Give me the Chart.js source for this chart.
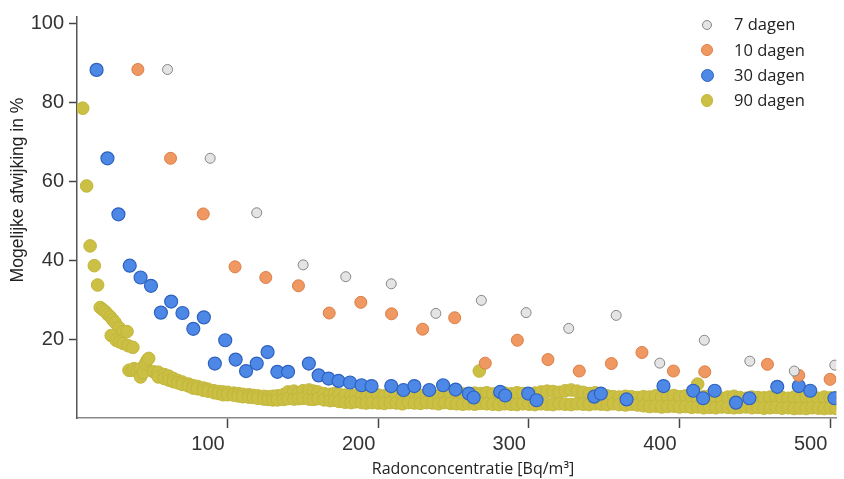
<!DOCTYPE html>
<html>
<head>
<meta charset="utf-8">
<script src="https://cdn.jsdelivr.net/npm/chart.js@4.4.1/dist/chart.umd.min.js"></script>
<style>
  html, body { margin: 0; padding: 0; background: #fff; }
  #wrap { position: relative; width: 844px; height: 479px; }
  #legend { position: absolute; left: 698px; top: 12px; font-family: "Open Sans", sans-serif; font-size: 16.5px; color: #222; }
  #legend .row { height: 25.3px; display: flex; align-items: center; }
  #legend .box { width: 18px; height: 18px; display: flex; align-items: center; justify-content: center; }
  #legend .dot { border-radius: 50%; box-sizing: border-box; }
  #legend .txt { margin-left: 18px; line-height: 1; }
</style>
</head>
<body>
<div id="wrap">
  <canvas id="myChart" width="844" height="479"></canvas>
  <div id="legend"></div>
</div>
<script>
    // series names
    const seriesLabels = ['7 dagen', '10 dagen', '30 dagen', '90 dagen'];

    // axis texts + ticks
    const xTitle = 'Radonconcentratie [Bq/m³]';
    const yTitle = 'Mogelijke afwijking in %';
    const xTicks = [100, 200, 300, 400, 500];
    const yTicks = [20, 40, 60, 80, 100];

    // 7 dagen
    const days7X = [60.1, 88.4, 119.3, 150.1, 178.4, 208.6, 238.2, 268.4, 298.1, 326.4, 357.9, 386.8, 416.4, 446.6, 476.1, 503.0];
    const days7Y = [88.3, 65.8, 52.0, 38.8, 35.8, 34.0, 26.5, 29.8, 26.7, 22.7, 26.0, 13.9, 19.7, 14.4, 11.9, 13.4];

    // 10 dagen
    const days10X = [40.4, 62.1, 83.8, 104.9, 125.3, 147.0, 167.4, 188.4, 208.8, 229.4, 250.7, 271.0, 292.3, 312.6, 333.4, 354.7, 375.0, 395.9, 416.7, 458.3, 479.1, 499.9];
    const days10Y = [88.3, 65.8, 51.7, 38.3, 35.6, 33.5, 26.6, 29.3, 26.4, 22.5, 25.4, 13.9, 19.7, 14.8, 11.9, 13.8, 16.6, 11.9, 11.7, 13.6, 10.8, 9.8];

    // 30 dagen
    const days30X = [13.0, 20.2, 27.5, 35.0, 42.2, 49.1, 55.7, 62.5, 70.0, 77.2, 84.2, 91.5, 98.4, 105.3, 112.2, 119.3, 126.5, 133.0, 140.1,
        153.9, 160.4, 167.0, 173.6, 181.2, 188.9, 195.5, 208.6, 216.7, 223.9, 233.8, 243.0, 251.3, 260.1, 263.3, 280.9, 284.2, 299.5, 305.0,
        343.3, 347.7, 364.8, 389.3, 409.0, 415.6, 423.3, 437.4, 446.3, 464.8, 479.1, 486.7, 502.8];
    const days30Y = [88.2, 65.8, 51.6, 38.6, 35.6, 33.5, 26.7, 29.5, 26.6, 22.6, 25.5, 13.8, 19.7, 14.8, 11.9, 13.8, 16.7, 11.7, 11.7,
        13.8, 10.8, 10.0, 9.4, 9.0, 8.3, 8.1, 8.1, 7.1, 8.1, 7.1, 8.3, 7.2, 6.2, 5.2, 6.6, 5.7, 6.2, 4.5,
        5.4, 6.2, 4.7, 8.1, 6.9, 5.0, 6.9, 3.9, 5.0, 7.9, 8.1, 6.9, 5.0];

    // 90 dagen (dichte band)
    const days90X = [3.8, 6.4, 8.7, 11.5, 13.7,
        15.4, 17.0, 18.7, 20.3, 22.0, 23.7, 25.3, 27.9, 30.6, 33.2, 22.7, 26.0, 28.3, 30.6, 34.0, 37.1,
        34.5, 36.7, 37.8, 40.0, 42.2, 42.2, 44.0, 45.5, 46.5, 47.6, 50.9, 53.0, 267.0, 412.0,
        54, 54, 58, 58, 61, 61, 64, 64, 67, 67, 70, 70, 74, 74, 77, 77, 80, 80, 84, 84, 87, 87, 91, 91, 94, 94, 97, 97,
        100, 100, 104, 104, 107, 107, 110, 110, 114, 114, 117, 117, 120, 120, 124, 124, 127, 127, 130, 130, 133, 133,
        137, 137, 140, 140, 144, 144, 147, 147, 150, 150, 154, 154, 157, 157, 160, 160, 164, 164, 168, 168, 171, 171,
        174, 174, 178, 178, 182, 182, 185, 185, 189, 189, 192, 192, 196, 196, 200, 200, 204, 204, 208, 208, 212, 212,
        216, 216, 220, 220, 224, 224, 228, 228, 232, 232, 236, 236, 240, 240, 244, 244, 248, 248, 252, 252, 256, 256,
        260, 260, 264, 264, 268, 268, 272, 272, 276, 276, 280, 280, 284, 284, 288, 288, 292, 292, 296, 296, 300, 300,
        304, 304, 308, 308, 312, 312, 316, 316, 320, 320, 324, 324, 328, 328, 332, 332, 336, 336, 340, 340, 344, 344,
        348, 348, 352, 352, 356, 356, 360, 360, 364, 364, 368, 368, 372, 372, 376, 376, 380, 380, 384, 384, 388, 388,
        392, 392, 396, 396, 400, 400, 404, 404, 408, 408, 412, 412, 416, 416, 420, 420, 424, 424, 428, 428, 432, 432,
        436, 436, 440, 440, 444, 444, 448, 448, 452, 452, 456, 456, 460, 460, 464, 464, 468, 468, 472, 472, 476, 476,
        480, 480, 484, 484, 488, 488, 492, 492, 496, 496, 500, 500, 504, 504];
    const days90Y = [78.5, 58.8, 43.6, 38.6, 33.7,
        28.0, 27.5, 27.0, 26.3, 25.7, 24.9, 24.2, 22.9, 21.9, 21.9, 20.9, 19.7, 19.3, 18.9, 18.3, 17.9,
        12.1, 12.1, 12.5, 12.2, 12.5, 10.4, 11.5, 13.8, 14.6, 15.1, 11.7, 11.2, 11.9, 8.6,
        11.6, 10.4, 11.0, 10.0, 10.6, 9.6, 10.0, 9.2, 9.5, 8.9, 9.1, 8.5, 8.6, 8.1, 8.2, 7.6, 8.0, 7.4, 7.6, 7.0, 7.3, 6.8, 6.9, 6.4, 6.7, 6.2, 6.6, 5.9,
        6.5, 5.9, 6.3, 5.8, 6.2, 5.6, 6.0, 5.4, 5.9, 5.3, 5.7, 5.2, 5.6, 5.0, 5.5, 4.8, 5.4, 4.7, 5.5, 4.6, 5.6, 4.6,
        5.9, 4.7, 6.6, 4.9, 6.8, 4.8, 6.4, 4.9, 6.9, 5.0, 7.1, 4.8, 6.8, 4.7, 6.6, 4.9, 6.2, 4.6, 6.0, 4.4, 6.2, 4.5,
        6.0, 4.2, 5.8, 4.0, 5.6, 3.9, 5.8, 4.1, 5.7, 3.9, 5.5, 3.8, 5.7, 3.9, 5.8, 3.8, 5.6, 3.7, 5.9, 3.9, 5.7, 3.8,
        5.5, 3.6, 5.8, 3.9, 6.1, 3.8, 5.7, 3.7, 5.5, 3.9, 5.8, 3.8, 5.6, 3.6, 5.9, 3.9, 6.1, 3.7, 6.3, 3.6, 6.1, 3.5,
        6.0, 3.6, 6.3, 3.5, 6.2, 3.7, 6.4, 3.6, 6.1, 3.5, 6.2, 3.4, 6.3, 3.6, 6.1, 3.5, 6.4, 3.4, 6.2, 3.6, 6.0, 3.5,
        6.3, 3.4, 6.6, 3.6, 6.8, 3.5, 6.7, 3.4, 6.5, 3.6, 6.9, 3.5, 7.1, 3.4, 6.8, 3.6, 6.5, 3.5, 6.2, 3.4, 6.4, 3.6,
        6.0, 3.5, 5.6, 3.4, 5.4, 3.6, 5.3, 3.4, 5.5, 3.3, 5.4, 3.5, 5.2, 3.3, 5.4, 3.1, 5.3, 2.9, 5.6, 3.0, 5.3, 2.8,
        5.5, 2.9, 5.7, 3.0, 5.4, 2.8, 5.6, 2.9, 5.3, 2.7, 5.1, 2.8, 5.4, 2.6, 5.6, 2.7, 5.2, 2.6, 5.0, 2.8, 5.3, 2.7,
        5.5, 2.6, 5.2, 2.7, 5.0, 2.8, 5.3, 2.6, 5.2, 2.7, 5.1, 2.5, 5.3, 2.6, 5.4, 2.7, 5.2, 2.5, 5.0, 2.6, 5.3, 2.4,
        5.1, 2.5, 5.4, 2.4, 5.2, 2.6, 5.0, 2.5, 5.3, 2.4, 5.1, 2.5, 5.2, 2.4];

    function pts(xs, ys) {
        return xs.map((x, i) => ({ x: x, y: ys[i] }));
    }

    // astitels op vaste plek (y-titel staat in het origineel boven het midden)
    const axisTitlePlugin = {
        id: 'axisTitles',
        afterDraw(chart) {
            const ctx = chart.ctx;
            ctx.save();
            ctx.fillStyle = '#222';
            ctx.textAlign = 'center';
            ctx.textBaseline = 'middle';
            ctx.font = '16px "Open Sans", sans-serif';
            ctx.fillText(xTitle, 473, 469);
            ctx.translate(18, 190);
            ctx.rotate(-Math.PI / 2);
            ctx.font = '17.5px "Liberation Sans", Arial, sans-serif';
            ctx.fillText(yTitle, 0, 0);
            ctx.restore();
        }
    };

    const tickFont = { family: 'Liberation Sans', size: 20 };

    let ctx = document.getElementById('myChart');
    let myChart = new Chart(ctx, {
        type: 'scatter',
        data: {
            datasets: [{
                    label: seriesLabels[0],
                    data: pts(days7X, days7Y),
                    backgroundColor: '#e4e4e4',
                    borderColor: '#858585',
                    pointRadius: 5,
                    pointBorderWidth: 1
                }, {
                    label: seriesLabels[1],
                    data: pts(days10X, days10Y),
                    backgroundColor: '#ef9862',
                    borderColor: '#dc7d45',
                    pointRadius: 6,
                    pointBorderWidth: 1
                }, {
                    label: seriesLabels[2],
                    data: pts(days30X, days30Y),
                    backgroundColor: '#4d88e6',
                    borderColor: '#2f62bf',
                    pointRadius: 6.5,
                    pointBorderWidth: 1.2
                }, {
                    label: seriesLabels[3],
                    data: pts(days90X, days90Y),
                    backgroundColor: '#cbbf44',
                    borderColor: '#c2b63c',
                    pointRadius: 6.3,
                    pointBorderWidth: 1
                }
            ]
        },
        options: {
            responsive: false,
            animation: false,
            devicePixelRatio: 1,
            layout: { padding: { top: 15, right: 0, bottom: 0, left: 0 } },
            plugins: {
                legend: { display: false },
                tooltip: { enabled: false }
            },
            scales: {
                x: {
                    type: 'linear',
                    min: 0,
                    max: 504,
                    afterBuildTicks: s => { s.ticks = xTicks.map(v => ({ value: v })); },
                    afterFit: s => { s.height = 61; },
                    grid: { drawOnChartArea: false, tickLength: 10, tickColor: '#444', tickWidth: 1.5 },
                    border: { color: '#888', width: 1.5 },
                    ticks: { align: 'end', labelOffset: -3, padding: 4, color: '#333', font: tickFont, maxRotation: 0 }
                },
                y: {
                    min: 0,
                    max: 101.6,
                    afterBuildTicks: s => { s.ticks = yTicks.map(v => ({ value: v })); },
                    afterFit: s => { s.width = 77; },
                    grid: { drawOnChartArea: false, tickLength: 8, tickColor: '#444', tickWidth: 1.5 },
                    border: { color: '#555', width: 1.5 },
                    ticks: { padding: 5, color: '#333', font: tickFont }
                }
            }
        },
        plugins: [axisTitlePlugin]
    });

    // legenda rechtsboven
    const legendEl = document.getElementById('legend');
    myChart.data.datasets.forEach(ds => {
        const d = ds.pointRadius * 2;
        legendEl.insertAdjacentHTML('beforeend',
            '<div class="row"><span class="box"><span class="dot" style="width:' + d + 'px;height:' + d +
            'px;background:' + ds.backgroundColor + ';border:1px solid ' + ds.borderColor + '"></span></span>' +
            '<span class="txt">' + ds.label + '</span></div>');
    });
</script>
</body>
</html>
